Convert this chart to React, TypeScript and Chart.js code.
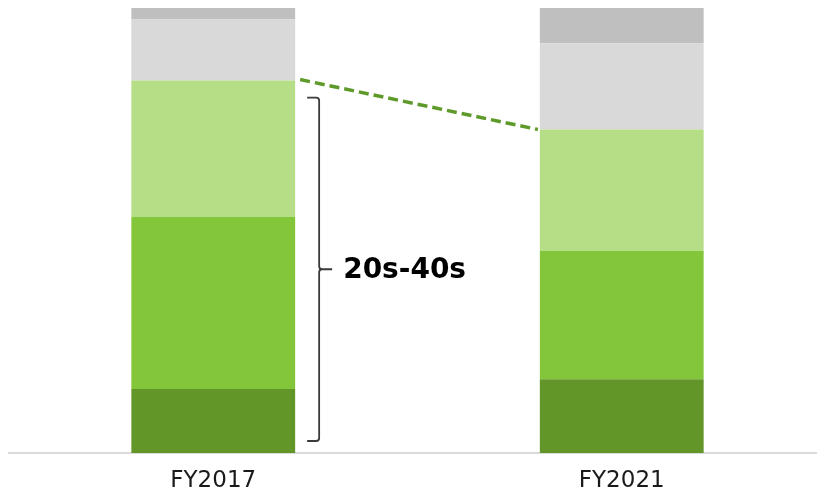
import React, { useEffect, useRef } from "react";
import { Chart, registerables } from "chart.js";

Chart.register(...registerables);

const categories = ["FY2017", "FY2021"];
const seriesNames = ["40s", "30s", "20s", "50s", "60s+"];
const darkGreen = [14.4, 16.6];
const midGreen = [38.7, 28.8];
const lightGreen = [30.6, 27.3];
const lightGray = [13.7, 19.4];
const gray = [2.6, 7.9];
const colors = ["#639628", "#84c639", "#b5de87", "#d9d9d9", "#bfbfbf"];
const bracketLabel = "20s-40s";

const annotationPlugin = {
  id: "annot",
  afterDatasetsDraw(chart: any) {
    const ctx = chart.ctx;
    const meta = chart.getDatasetMeta(2);
    const b0 = meta.data[0];
    const b1 = meta.data[1];
    const base = chart.getDatasetMeta(0).data[0].base;
    ctx.save();
    // dashed line
    ctx.strokeStyle = "#5e9a2a";
    ctx.lineWidth = 3.5;
    ctx.setLineDash([10, 5]);
    ctx.beginPath();
    ctx.moveTo(b0.x + b0.width / 2 + 5, b0.y - 1);
    ctx.lineTo(b1.x - b1.width / 2 - 2, b1.y);
    ctx.stroke();
    ctx.setLineDash([]);
    // bracket
    const xr = b0.x + b0.width / 2;
    const x0 = xr + 12;
    const x1 = xr + 24;
    const top = b0.y + 17;
    const bot = base - 12;
    const mid = (top + bot) / 2;
    ctx.strokeStyle = "#3a3a3a";
    ctx.lineWidth = 1.8;
    ctx.beginPath();
    ctx.moveTo(x0, top);
    ctx.lineTo(x1 - 3, top);
    ctx.quadraticCurveTo(x1, top, x1, top + 3);
    ctx.lineTo(x1, mid - 3);
    ctx.quadraticCurveTo(x1, mid, x1 + 3, mid);
    ctx.lineTo(x1 + 13, mid);
    ctx.moveTo(x1 + 3, mid);
    ctx.quadraticCurveTo(x1, mid, x1, mid + 3);
    ctx.lineTo(x1, bot - 3);
    ctx.quadraticCurveTo(x1, bot, x1 - 3, bot);
    ctx.lineTo(x0, bot);
    ctx.stroke();
    ctx.fillStyle = "#000000";
    ctx.font = "bold 28px 'DejaVu Sans', Verdana, sans-serif";
    ctx.textBaseline = "middle";
    ctx.textAlign = "left";
    ctx.fillText(bracketLabel, x1 + 24, mid + 1);
    ctx.restore();
  },
};

export default function App() {
  const ref = useRef<HTMLCanvasElement>(null);
  useEffect(() => {
    if (!ref.current) return;
    const data = [darkGreen, midGreen, lightGreen, lightGray, gray];
    const chart = new Chart(ref.current, {
      type: "bar",
      data: {
        labels: categories,
        datasets: data.map((d, i) => ({
          label: seriesNames[i],
          data: d,
          backgroundColor: colors[i],
          borderWidth: 0,
          categoryPercentage: 1,
          barPercentage: 0.401,
        })),
      },
      options: {
        animation: false,
        responsive: false,
        events: [],
        layout: { padding: { left: 9, right: 4, top: 8, bottom: 0 } },
        plugins: { legend: { display: false }, tooltip: { enabled: false } },
        scales: {
          x: {
            stacked: true,
            grid: { display: false, drawTicks: false },
            border: { display: true, color: "#dadada", width: 2 },
            ticks: {
              color: "#1a1a1a",
              padding: 14,
              font: { family: "'DejaVu Sans', Verdana, sans-serif", size: 23 },
            },
            afterFit: (s: any) => {
              s.height = 39;
            },
          },
          y: {
            stacked: true,
            display: false,
            min: 0,
            max: 100,
          },
        },
      },
      plugins: [annotationPlugin],
    });
    return () => chart.destroy();
  }, []);
  return (
    <div style={{ position: "fixed", left: 0, top: 0, width: 817, height: 492, overflow: "hidden" }}>
      <canvas ref={ref} width={830} height={492} style={{ display: "block" }} />
    </div>
  );
}
